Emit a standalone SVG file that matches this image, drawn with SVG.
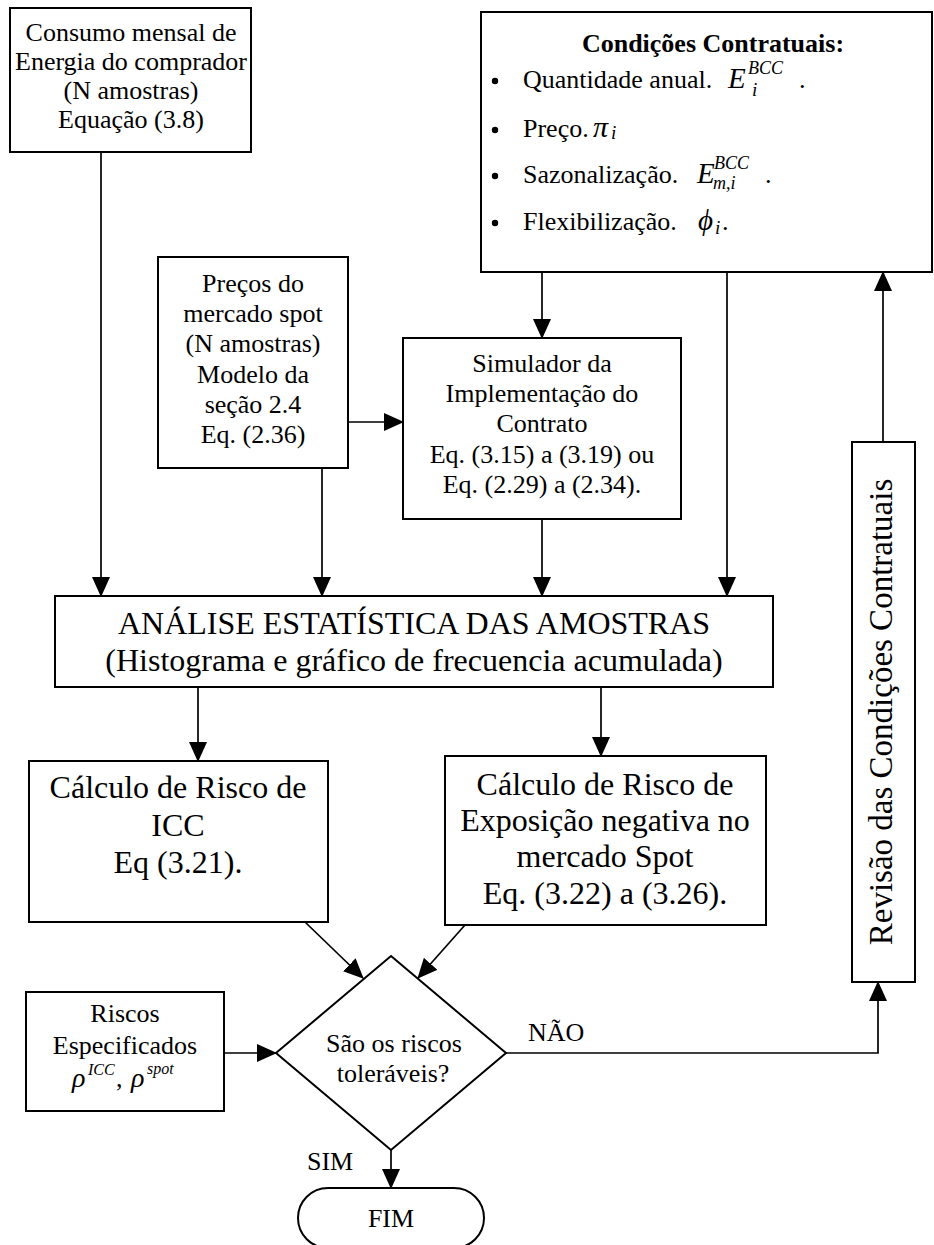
<svg xmlns="http://www.w3.org/2000/svg" width="934" height="1245" viewBox="0 0 934 1245">
<defs>
<style>
text{font-family:"Liberation Serif","Times New Roman",serif;fill:#000}
.s{font-size:26px}
.l{font-size:32px}
.b{font-weight:bold}
.i{font-style:italic}
.ctr{text-anchor:middle}
.box{fill:#fff;stroke:#000;stroke-width:2}
.c{fill:none;stroke:#000;stroke-width:1.7}
</style>
<marker id="ah" markerUnits="userSpaceOnUse" markerWidth="20" markerHeight="18" refX="19" refY="9" orient="auto"><path d="M0,0 L20,9 L0,18 z" fill="#000"/></marker>
</defs>
<rect width="934" height="1245" fill="#fff"/>

<g id="connectors">
<path class="c" d="M101,152 V596" marker-end="url(#ah)"/>
<path class="c" d="M322,468 V596" marker-end="url(#ah)"/>
<path class="c" d="M348,422 H403" marker-end="url(#ah)"/>
<path class="c" d="M542,519 V596" marker-end="url(#ah)"/>
<path class="c" d="M542,272 V338" marker-end="url(#ah)"/>
<path class="c" d="M727,272 V596" marker-end="url(#ah)"/>
<path class="c" d="M198,687 V761" marker-end="url(#ah)"/>
<path class="c" d="M601,687 V756" marker-end="url(#ah)"/>
<path class="c" d="M305,922 L363,978" marker-end="url(#ah)"/>
<path class="c" d="M465,925 L418,978" marker-end="url(#ah)"/>
<path class="c" d="M224,1053 H276" marker-end="url(#ah)"/>
<path class="c" d="M391,1150 V1188" marker-end="url(#ah)"/>
<path class="c" d="M506,1053 H878 V982" marker-end="url(#ah)"/>
<path class="c" d="M883,442 V272" marker-end="url(#ah)"/>
<text class="s" x="528" y="1041">NÃO</text>
<text class="s" x="307" y="1170">SIM</text>
</g>

<g id="consumo">
<rect class="box" x="10" y="8" width="241" height="144"/>
<text class="s ctr" x="131" y="41">Consumo mensal de</text>
<text class="s ctr" x="131" y="70">Energia do comprador</text>
<text class="s ctr" x="131" y="99">(N amostras)</text>
<text class="s ctr" x="131" y="128">Equação (3.8)</text>
</g>

<g id="condicoes">
<rect class="box" x="481" y="12" width="451" height="260"/>
<text class="s b ctr" x="713" y="52">Condições Contratuais:</text>
<circle cx="495" cy="81" r="3.2"/>
<text class="s" x="523" y="88">Quantidade anual.</text>
<text class="i" font-size="29" x="728" y="88">E</text>
<text class="i" font-size="18" x="748" y="74">BCC</text>
<text class="i" font-size="19" x="752" y="96">i</text>
<text class="s" x="799" y="88">.</text>
<circle cx="495" cy="130" r="3.2"/>
<text class="s" x="523" y="137">Preço.</text>
<text class="i" font-size="30" x="593" y="137">π</text>
<text class="i" font-size="19" x="611" y="139">i</text>
<circle cx="495" cy="176" r="3.2"/>
<text class="s" x="523" y="183">Sazonalização.</text>
<text class="i" font-size="29" x="697" y="183">E</text>
<text class="i" font-size="18" x="714" y="169">BCC</text>
<text class="i" font-size="18" x="713" y="189">m,i</text>
<text class="s" x="765" y="183">.</text>
<circle cx="495" cy="223" r="3.2"/>
<text class="s" x="523" y="230">Flexibilização.</text>
<text class="i" font-size="29" x="698" y="230">ϕ</text>
<text class="i" font-size="19" x="715" y="234">i</text>
<text class="s" x="722" y="230">.</text>
</g>

<g id="precos">
<rect class="box" x="158" y="257" width="190" height="211"/>
<text class="s ctr" x="253" y="292">Preços do</text>
<text class="s ctr" x="253" y="322">mercado spot</text>
<text class="s ctr" x="253" y="352">(N amostras)</text>
<text class="s ctr" x="253" y="383">Modelo da</text>
<text class="s ctr" x="253" y="413">seção 2.4</text>
<text class="s ctr" x="253" y="443">Eq. (2.36)</text>
</g>

<g id="simulador">
<rect class="box" x="403" y="338" width="278" height="181"/>
<text class="s ctr" x="542" y="372">Simulador da</text>
<text class="s ctr" x="542" y="402">Implementação do</text>
<text class="s ctr" x="542" y="432">Contrato</text>
<text class="s ctr" x="542" y="463">Eq. (3.15) a (3.19) ou</text>
<text class="s ctr" x="542" y="493">Eq. (2.29) a (2.34).</text>
</g>

<g id="analise">
<rect class="box" x="55" y="596" width="718" height="91"/>
<text class="l ctr" x="414" y="634">ANÁLISE ESTATÍSTICA DAS AMOSTRAS</text>
<text class="l ctr" x="414" y="671">(Histograma e gráfico de frecuencia acumulada)</text>
</g>

<g id="icc">
<rect class="box" x="29" y="761" width="299" height="161"/>
<text class="l ctr" x="178" y="798">Cálculo de Risco de</text>
<text class="l ctr" x="178" y="836">ICC</text>
<text class="l ctr" x="178" y="873">Eq (3.21).</text>
</g>

<g id="exposicao">
<rect class="box" x="445" y="756" width="321" height="169"/>
<text class="l ctr" x="605" y="795">Cálculo de Risco de</text>
<text class="l ctr" x="605" y="831">Exposição negativa no</text>
<text class="l ctr" x="605" y="867">mercado Spot</text>
<text class="l ctr" x="605" y="904">Eq. (3.22) a (3.26).</text>
</g>

<g id="riscos">
<rect class="box" x="26" y="992" width="198" height="119"/>
<text class="s ctr" x="125" y="1022">Riscos</text>
<text class="s ctr" x="125" y="1054">Especificados</text>
<text class="i" font-size="28" x="72" y="1087">ρ</text>
<text class="i" font-size="16" x="88" y="1075">ICC</text>
<text class="s" x="116" y="1087">,</text>
<text class="i" font-size="28" x="131" y="1087">ρ</text>
<text class="i" font-size="16" x="147" y="1074">spot</text>
</g>

<g id="decisao">
<path class="box" d="M391,956 L506,1053 L391,1150 L276,1053 Z"/>
<text class="s ctr" x="394" y="1052">São os riscos</text>
<text class="s ctr" x="393" y="1082">toleráveis?</text>
</g>

<g id="fim">
<rect class="box" x="298" y="1188" width="186" height="60" rx="30" ry="30"/>
<text class="s ctr" x="391" y="1227">FIM</text>
</g>

<g id="revisao">
<rect class="box" x="852" y="442" width="63" height="540"/>
<text class="ctr" font-size="33" transform="translate(892,712) rotate(-90)">Revisão das Condições Contratuais</text>
</g>
</svg>
